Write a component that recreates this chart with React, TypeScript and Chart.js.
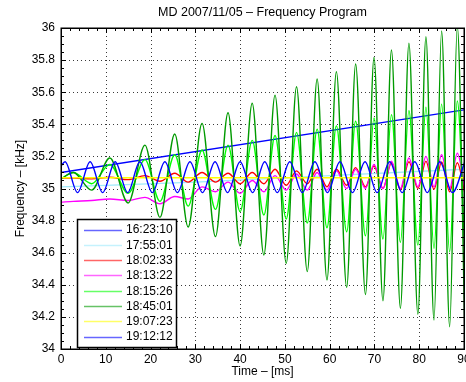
import React, { useEffect, useRef } from 'react';
import { Chart, registerables } from 'chart.js';

Chart.register(...registerables);

const TITLE = 'MD 2007/11/05 – Frequency Program';
const X_LABEL = 'Time – [ms]';
const Y_LABEL = 'Frequency – [kHz]';

const xTickMin = 0;
const xTickMax = 90;
const xTickStep = 10;
const yTickMin = 34;
const yTickMax = 36;
const yTickStep = 0.2;

const seriesLabels = ['16:23:10', '17:55:01', '18:02:33', '18:13:22', '18:15:26', '18:45:01', '19:07:23', '19:12:12'];
const seriesColors = ['#0000ff', '#9fe9fb', '#ff0000', '#ff00ff', '#00ff00', '#009a00', '#ffff00', '#0000ff'];

// 16:23:10 — straight ramp
const rampTimes = [0, 90];
const ramp162310 = [35.1, 35.49];

// 17:55:01 — slow drift
const driftTimes = [0, 30, 60, 90];
const cyan175501 = [35.01, 35.04, 35.08, 35.12];

// shared extrema times for the chirped oscillations
const extremaTimes = [0, 2.75, 6.85, 10.9, 15.0, 18.75, 22.1, 25.4, 28.4, 31.5, 34.5, 37.3, 40.0, 42.7, 45.3, 47.8, 50.3, 52.6, 55.0, 57.2, 59.4, 61.5, 63.8, 65.8, 68.0, 69.9, 71.9, 73.8, 75.8, 77.7, 79.7, 81.5, 83.3, 85.0, 86.8, 88.5, 90.2];

const red180233 = [35.065, 35.065, 35.06, 35.07, 35.055, 35.08, 35.045, 35.095, 35.04, 35.1, 35.04, 35.095, 35.03, 35.1, 35.03, 35.12, 35.02, 35.11, 35.03, 35.12, 35.01, 35.12, 35.02, 35.13, 35.01, 35.14, 35.0, 35.16, 34.99, 35.167, 35.0, 35.17, 34.995, 35.165, 34.98, 35.16, 34.97];

const magenta181322 = [34.915, 34.92, 34.925, 34.935, 34.925, 34.945, 34.905, 34.95, 34.935, 35.01, 34.98, 35.04, 34.97, 35.05, 34.98, 35.08, 34.99, 35.09, 34.99, 35.1, 34.99, 35.11, 35.0, 35.12, 35.0, 35.15, 35.0, 35.17, 35.0, 35.19, 35.01, 35.2, 35.01, 35.21, 35.0, 35.22, 35.0];

const green181526 = [35.06, 35.1, 35.03, 35.15, 34.97, 35.18, 34.92, 35.21, 34.89, 35.24, 34.87, 35.27, 34.856, 35.3, 34.835, 35.33, 34.81, 35.35, 34.785, 35.37, 34.755, 35.39, 34.73, 35.42, 34.705, 35.44, 34.685, 35.46, 34.665, 35.485, 34.648, 35.506, 34.627, 35.526, 34.606, 35.545, 34.596];

const green184501 = [35.06, 35.1, 34.99, 35.19, 34.91, 35.27, 34.82, 35.34, 34.76, 35.406, 34.7, 35.472, 34.642, 35.531, 34.586, 35.582, 34.534, 35.634, 34.482, 35.682, 34.43, 35.728, 34.384, 35.776, 34.34, 35.817, 34.3, 35.863, 34.254, 35.905, 34.216, 35.946, 34.18, 35.981, 34.139, 36.01, 34.108];

// 19:07:23 — flat
const flatTimes = [0, 90];
const yellow190723 = [35.067, 35.067];

// 19:12:12 — steady oscillation
const oscTimes = [0, 0.9, 3.7, 6.5, 9.3, 12.1, 14.9, 17.6, 20.4, 23.2, 26.0, 28.8, 31.6, 34.4, 37.2, 40.0, 42.8, 45.5, 48.3, 51.1, 53.9, 56.7, 59.5, 62.3, 65.1, 67.9, 70.6, 73.4, 76.2, 79.0, 81.8, 84.6, 87.4, 90.2];
const blue191212 = [35.14, 35.167, 34.974, 35.167, 34.974, 35.167, 34.974, 35.167, 34.974, 35.167, 34.974, 35.167, 34.974, 35.167, 34.974, 35.167, 34.974, 35.167, 34.974, 35.167, 34.974, 35.167, 34.974, 35.167, 34.974, 35.167, 34.974, 35.167, 34.974, 35.167, 34.974, 35.167, 34.974, 35.167];

const seriesTimes = [rampTimes, driftTimes, extremaTimes, extremaTimes, extremaTimes, extremaTimes, flatTimes, oscTimes];
const seriesValues = [ramp162310, cyan175501, red180233, magenta181322, green181526, green184501, yellow190723, blue191212];

const FONT = "'Liberation Sans', Arial, Helvetica, sans-serif";

function toXY(times: number[], values: number[]) {
  return times.map((t, i) => ({ x: t, y: values[i] }));
}

const framePlugin = {
  id: 'matlabFrame',
  beforeDatasetsDraw(chart: any) {
    const { ctx, chartArea: a, scales } = chart;
    const xs = scales.x;
    const ys = scales.y;
    ctx.save();
    ctx.strokeStyle = '#3a3a3a';
    ctx.lineWidth = 1;
    ctx.setLineDash([1, 3]);
    xs.ticks.forEach((t: any) => {
      const px = Math.round(xs.getPixelForValue(t.value)) + 0.5;
      if (px <= a.left + 1 || px >= a.right - 1) return;
      ctx.beginPath();
      ctx.moveTo(px, a.top);
      ctx.lineTo(px, a.bottom);
      ctx.stroke();
    });
    ys.ticks.forEach((t: any) => {
      const py = Math.round(ys.getPixelForValue(t.value)) + 0.5;
      if (py <= a.top + 1 || py >= a.bottom - 1) return;
      ctx.beginPath();
      ctx.moveTo(a.left, py);
      ctx.lineTo(a.right, py);
      ctx.stroke();
    });
    ctx.restore();
  },
  afterDatasetsDraw(chart: any) {
    const { ctx, chartArea: a, scales } = chart;
    const xs = scales.x;
    const ys = scales.y;
    ctx.save();
    ctx.strokeStyle = '#000';
    ctx.lineWidth = 1;
    ctx.setLineDash([]);
    const xMinorStep = xTickStep / 5;
    for (let v = xTickMin; v <= xTickMax + 1e-9; v += xMinorStep) {
      const major = Math.abs(v / xTickStep - Math.round(v / xTickStep)) < 1e-6;
      const len = major ? 5 : 3;
      const px = Math.round(xs.getPixelForValue(v)) + 0.5;
      ctx.beginPath();
      ctx.moveTo(px, a.bottom);
      ctx.lineTo(px, a.bottom - len);
      ctx.moveTo(px, a.top);
      ctx.lineTo(px, a.top + len);
      ctx.stroke();
    }
    const yMinorStep = yTickStep / 4;
    for (let v = yTickMin; v <= yTickMax + 1e-9; v += yMinorStep) {
      const major = Math.abs(v / yTickStep - Math.round(v / yTickStep)) < 1e-6;
      const len = major ? 5 : 3;
      const py = Math.round(ys.getPixelForValue(v)) + 0.5;
      ctx.beginPath();
      ctx.moveTo(a.left, py);
      ctx.lineTo(a.left + len, py);
      ctx.moveTo(a.right, py);
      ctx.lineTo(a.right - len, py);
      ctx.stroke();
    }
    ctx.lineWidth = 1.5;
    ctx.strokeRect(Math.round(a.left) + 0.25, Math.round(a.top) + 0.25, Math.round(a.right - a.left), Math.round(a.bottom - a.top));

    // title centred over the plot box
    ctx.fillStyle = '#000';
    ctx.font = `12.5px ${FONT}`;
    ctx.textAlign = 'center';
    ctx.textBaseline = 'middle';
    ctx.fillText(TITLE, (a.left + a.right) / 2, 12.5);

    // legend
    const lx = 77, ly = 219, lw = 99, lh = 128;
    ctx.fillStyle = '#fff';
    ctx.fillRect(lx, ly, lw, lh);
    ctx.lineWidth = 1.5;
    ctx.strokeStyle = '#000';
    ctx.strokeRect(lx + 0.5, ly + 0.5, lw, lh);
    ctx.font = `12px ${FONT}`;
    ctx.textBaseline = 'middle';
    ctx.textAlign = 'left';
    chart.data.datasets.forEach((ds: any, i: number) => {
      const cy = ly + 10.5 + i * 15.3;
      ctx.strokeStyle = ds.borderColor;
      ctx.globalAlpha = 0.6;
      ctx.lineWidth = 1.5;
      ctx.beginPath();
      ctx.moveTo(lx + 7, Math.round(cy) + 0.5);
      ctx.lineTo(lx + 45, Math.round(cy) + 0.5);
      ctx.stroke();
      ctx.globalAlpha = 1;
      ctx.fillStyle = '#000';
      ctx.fillText(ds.label, lx + 49, cy + 0.5);
    });
    ctx.restore();
  },
};

function fmtTick(v: number) {
  return String(Number(Number(v).toFixed(2)));
}

export default function App() {
  const ref = useRef<HTMLCanvasElement>(null);
  useEffect(() => {
    if (!ref.current) return;
    const n = seriesLabels.length;
    const chart = new Chart(ref.current, {
      type: 'line',
      data: {
        datasets: seriesLabels.map((label, i) => ({
          label,
          data: toXY(seriesTimes[i], seriesValues[i]),
          borderColor: seriesColors[i],
          backgroundColor: seriesColors[i],
          borderWidth: 1.4,
          pointRadius: 0,
          fill: false,
          cubicInterpolationMode: 'monotone',
          order: n - i,
        })),
      },
      options: {
        animation: false,
        responsive: false,
        maintainAspectRatio: false,
        layout: { padding: { left: 0, right: 2, top: 28, bottom: 0 } },
        plugins: {
          legend: { display: false },
          tooltip: { enabled: false },
          title: { display: false },
        },
        scales: {
          x: {
            type: 'linear',
            min: xTickMin,
            max: xTickMax,
            grid: { display: false, drawTicks: false },
            border: { display: false },
            ticks: { stepSize: xTickStep, color: '#000', font: { family: FONT, size: 12 }, padding: 3, maxRotation: 0, callback: (v: any) => fmtTick(v) },
            title: { display: true, text: X_LABEL, color: '#000', font: { family: FONT, size: 12 }, padding: { top: 0, bottom: 3 } },
            afterFit: (s: any) => { s.height = 33; s.paddingLeft = 0; s.paddingRight = 0; },
          },
          y: {
            type: 'linear',
            min: yTickMin,
            max: yTickMax,
            grid: { display: false, drawTicks: false },
            border: { display: false },
            ticks: { stepSize: yTickStep, color: '#000', font: { family: FONT, size: 12 }, padding: 6, callback: (v: any) => fmtTick(v) },
            title: { display: true, text: Y_LABEL, color: '#000', font: { family: FONT, size: 12 }, padding: { top: 13, bottom: 0 } },
            afterFit: (s: any) => { s.width = 61; s.paddingTop = 0; s.paddingBottom = 0; },
          },
        },
      } as any,
      plugins: [framePlugin],
    });
    return () => chart.destroy();
  }, []);
  return (
    <div style={{ position: 'fixed', left: 0, top: 0, width: 466, height: 382, background: '#fff' }}>
      <canvas ref={ref} width={466} height={382} style={{ display: 'block' }} />
    </div>
  );
}
